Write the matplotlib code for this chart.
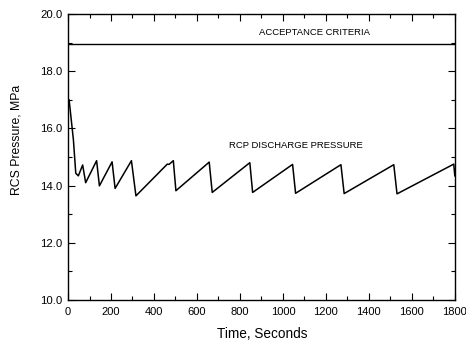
import matplotlib.pyplot as plt
from matplotlib.ticker import MultipleLocator, FormatStrFormatter

plt.rcParams['font.family'] = ['Liberation Sans', 'DejaVu Sans']

# RCS pressure trace
time_s = [0, 5, 25, 36, 48, 68, 82, 133, 146, 205, 219, 295, 316,
          462, 470, 490, 502, 657, 671, 846, 859, 1045, 1059,
          1270, 1285, 1516, 1531, 1795, 1800]
pressure = [16.7, 17.0, 15.6, 14.43, 14.34, 14.72, 14.10, 14.87, 13.99,
            14.83, 13.90, 14.87, 13.64,
            14.75, 14.74, 14.87, 13.82, 14.82, 13.76, 14.80, 13.76,
            14.74, 13.73, 14.73, 13.72, 14.73, 13.71, 14.75, 14.34]

accept_limit = 18.96

fig = plt.figure(figsize=(4.66, 3.42), dpi=100)
ax = fig.add_axes([0.146, 0.123, 0.830, 0.836])

ax.plot(time_s, pressure, color='black', lw=1.1)
ax.axhline(accept_limit, color='black', lw=1.0)

ax.text(1149, 19.35, 'ACCEPTANCE CRITERIA', fontsize=6.8, ha='center', va='center')
ax.text(1060, 15.40, 'RCP DISCHARGE PRESSURE', fontsize=6.8, ha='center', va='center')

ax.set_xlim(0, 1800)
ax.set_ylim(10, 20)
ax.xaxis.set_major_locator(MultipleLocator(200))
ax.xaxis.set_minor_locator(MultipleLocator(100))
ax.yaxis.set_major_locator(MultipleLocator(2))
ax.yaxis.set_minor_locator(MultipleLocator(1))
ax.yaxis.set_major_formatter(FormatStrFormatter('%.1f'))
ax.tick_params(which='both', direction='in', top=True, right=True, width=0.8)
ax.tick_params(which='major', length=5)
ax.tick_params(which='minor', length=3)
ax.tick_params(axis='x', labelsize=8, pad=5)
ax.tick_params(axis='y', labelsize=8.2, pad=4)
for s in ax.spines.values():
    s.set_linewidth(1.0)

fig.text(262 / 466, 1 - 334 / 342, 'Time, Seconds', fontsize=9.8, ha='center', va='center')
fig.text(16.5 / 466, 1 - 140 / 342, 'RCS Pressure, MPa', fontsize=8.8,
         rotation=90, ha='center', va='center')

fig.savefig('out.png', dpi=100)
